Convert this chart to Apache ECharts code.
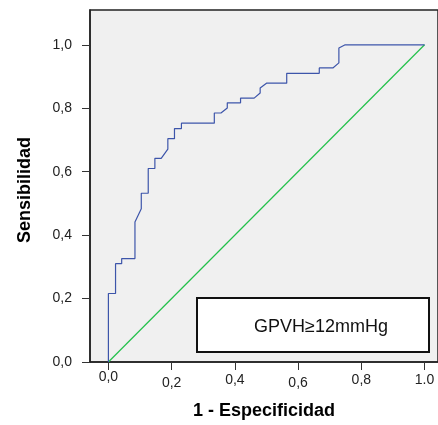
<!DOCTYPE html>
<html>
<head>
<meta charset="utf-8">
<script src="https://cdn.jsdelivr.net/npm/echarts@6/dist/echarts.min.js"></script>
<style>
  html, body { margin: 0; padding: 0; background: #fff; }
  #chart { width: 438px; height: 425px; }
</style>
</head>
<body>
<div id="chart"></div>
<script>
// ROC curve: 1 - specificity (x) against sensitivity (y)
const fpr = [0, 0, 0.0226, 0.0226, 0.042, 0.042, 0.084, 0.084, 0.104, 0.104, 0.126, 0.126,
  0.147, 0.147, 0.167, 0.188, 0.188, 0.209, 0.209, 0.231, 0.231, 0.335, 0.335, 0.356,
  0.376, 0.376, 0.418, 0.418, 0.461, 0.48, 0.48, 0.5, 0.564, 0.564, 0.667, 0.667,
  0.71, 0.729, 0.729, 0.749, 1];
const tpr = [0, 0.216, 0.216, 0.31, 0.31, 0.326, 0.326, 0.441, 0.483, 0.532, 0.532, 0.61,
  0.61, 0.642, 0.642, 0.671, 0.704, 0.704, 0.736, 0.736, 0.753, 0.753, 0.785, 0.785,
  0.801, 0.817, 0.817, 0.832, 0.832, 0.848, 0.864, 0.879, 0.879, 0.91, 0.91, 0.927,
  0.927, 0.943, 0.99, 1, 1];
// reference diagonal
const refX = [0, 1];
const refY = [0, 1];

const tickValues = [0, 0.2, 0.4, 0.6, 0.8, 1.0];
const xTickLabels = ['0,0', '0,2', '0,4', '0,6', '0,8', '1.0'];
const yTickLabels = ['0,0', '0,2', '0,4', '0,6', '0,8', '1,0'];
const curveLabel = 'GPVH≥12mmHg';

// vertical stagger of the x tick labels
const xLabelDrop = ['s0', 's6', 's3', 's6', 's3', 's3'];

const chart = echarts.init(document.getElementById('chart'), null, { renderer: 'canvas' });
const font = 'Arial, "Liberation Sans", sans-serif';

chart.setOption({
  animation: false,
  backgroundColor: '#ffffff',
  textStyle: { fontFamily: font },
  grid: {
    left: 90, right: -2, top: 10, bottom: 61,
    show: true, backgroundColor: '#f0f0f0',
    borderColor: '#222', borderWidth: 1.5
  },
  xAxis: {
    type: 'value',
    min: -0.0582, max: 1.0425,
    name: '1 - Especificidad',
    nameLocation: 'middle',
    nameGap: 40,
    nameTextStyle: { fontSize: 18, fontWeight: 'bold', color: '#000', fontFamily: font },
    axisLine: { show: true, onZero: false, lineStyle: { color: '#222', width: 1.5 } },
    axisTick: { show: true, length: 8, inside: false, customValues: tickValues,
      lineStyle: { color: '#333', width: 1 } },
    splitLine: { show: false },
    axisLabel: {
      customValues: tickValues,
      margin: 8,
      color: '#222', fontSize: 14, fontFamily: font,
      formatter: function (v) {
        const i = tickValues.findIndex(t => Math.abs(t - v) < 1e-6);
        return i < 0 ? '' : '{' + xLabelDrop[i] + '|' + xTickLabels[i] + '}';
      },
      rich: {
        s0: { fontSize: 14, color: '#222', padding: [0, 0, 0, 0], fontFamily: font },
        s3: { fontSize: 14, color: '#222', padding: [3, 0, 0, 0], fontFamily: font },
        s6: { fontSize: 14, color: '#222', padding: [6, 0, 0, 0], fontFamily: font }
      }
    }
  },
  yAxis: {
    type: 'value',
    min: 0, max: 1.1097,
    name: 'Sensibilidad',
    nameLocation: 'middle',
    nameGap: 56,
    nameTextStyle: { fontSize: 18, fontWeight: 'bold', color: '#000', fontFamily: font,
      padding: [0, 8, 0, 0] },
    axisLine: { show: true, onZero: false, lineStyle: { color: '#222', width: 1.5 } },
    axisTick: { show: true, length: 8, inside: false, customValues: tickValues,
      lineStyle: { color: '#333', width: 1 } },
    splitLine: { show: false },
    axisLabel: {
      customValues: tickValues,
      margin: 18,
      color: '#222', fontSize: 14, fontFamily: font,
      formatter: function (v) {
        const i = tickValues.findIndex(t => Math.abs(t - v) < 1e-6);
        return i < 0 ? '' : yTickLabels[i];
      }
    }
  },
  series: [
    {
      type: 'line',
      data: refX.map((x, i) => [x, refY[i]]),
      symbol: 'none',
      lineStyle: { color: '#22c04a', width: 1.2 },
      z: 2
    },
    {
      type: 'line',
      data: fpr.map((x, i) => [x, tpr[i]]),
      symbol: 'none',
      lineStyle: { color: '#3d55aa', width: 1.2 },
      z: 3
    }
  ],
  graphic: [
    {
      type: 'group',
      left: 196, top: 297,
      children: [
        {
          type: 'rect',
          shape: { x: 0, y: 0, width: 232, height: 54 },
          style: { fill: '#ffffff', stroke: '#111', lineWidth: 2 }
        },
        {
          type: 'text',
          x: 57, y: 29,
          style: {
            text: curveLabel,
            font: '18px ' + font,
            fill: '#111',
            textAlign: 'left',
            textVerticalAlign: 'middle'
          }
        }
      ]
    }
  ]
});
</script>
</body>
</html>
